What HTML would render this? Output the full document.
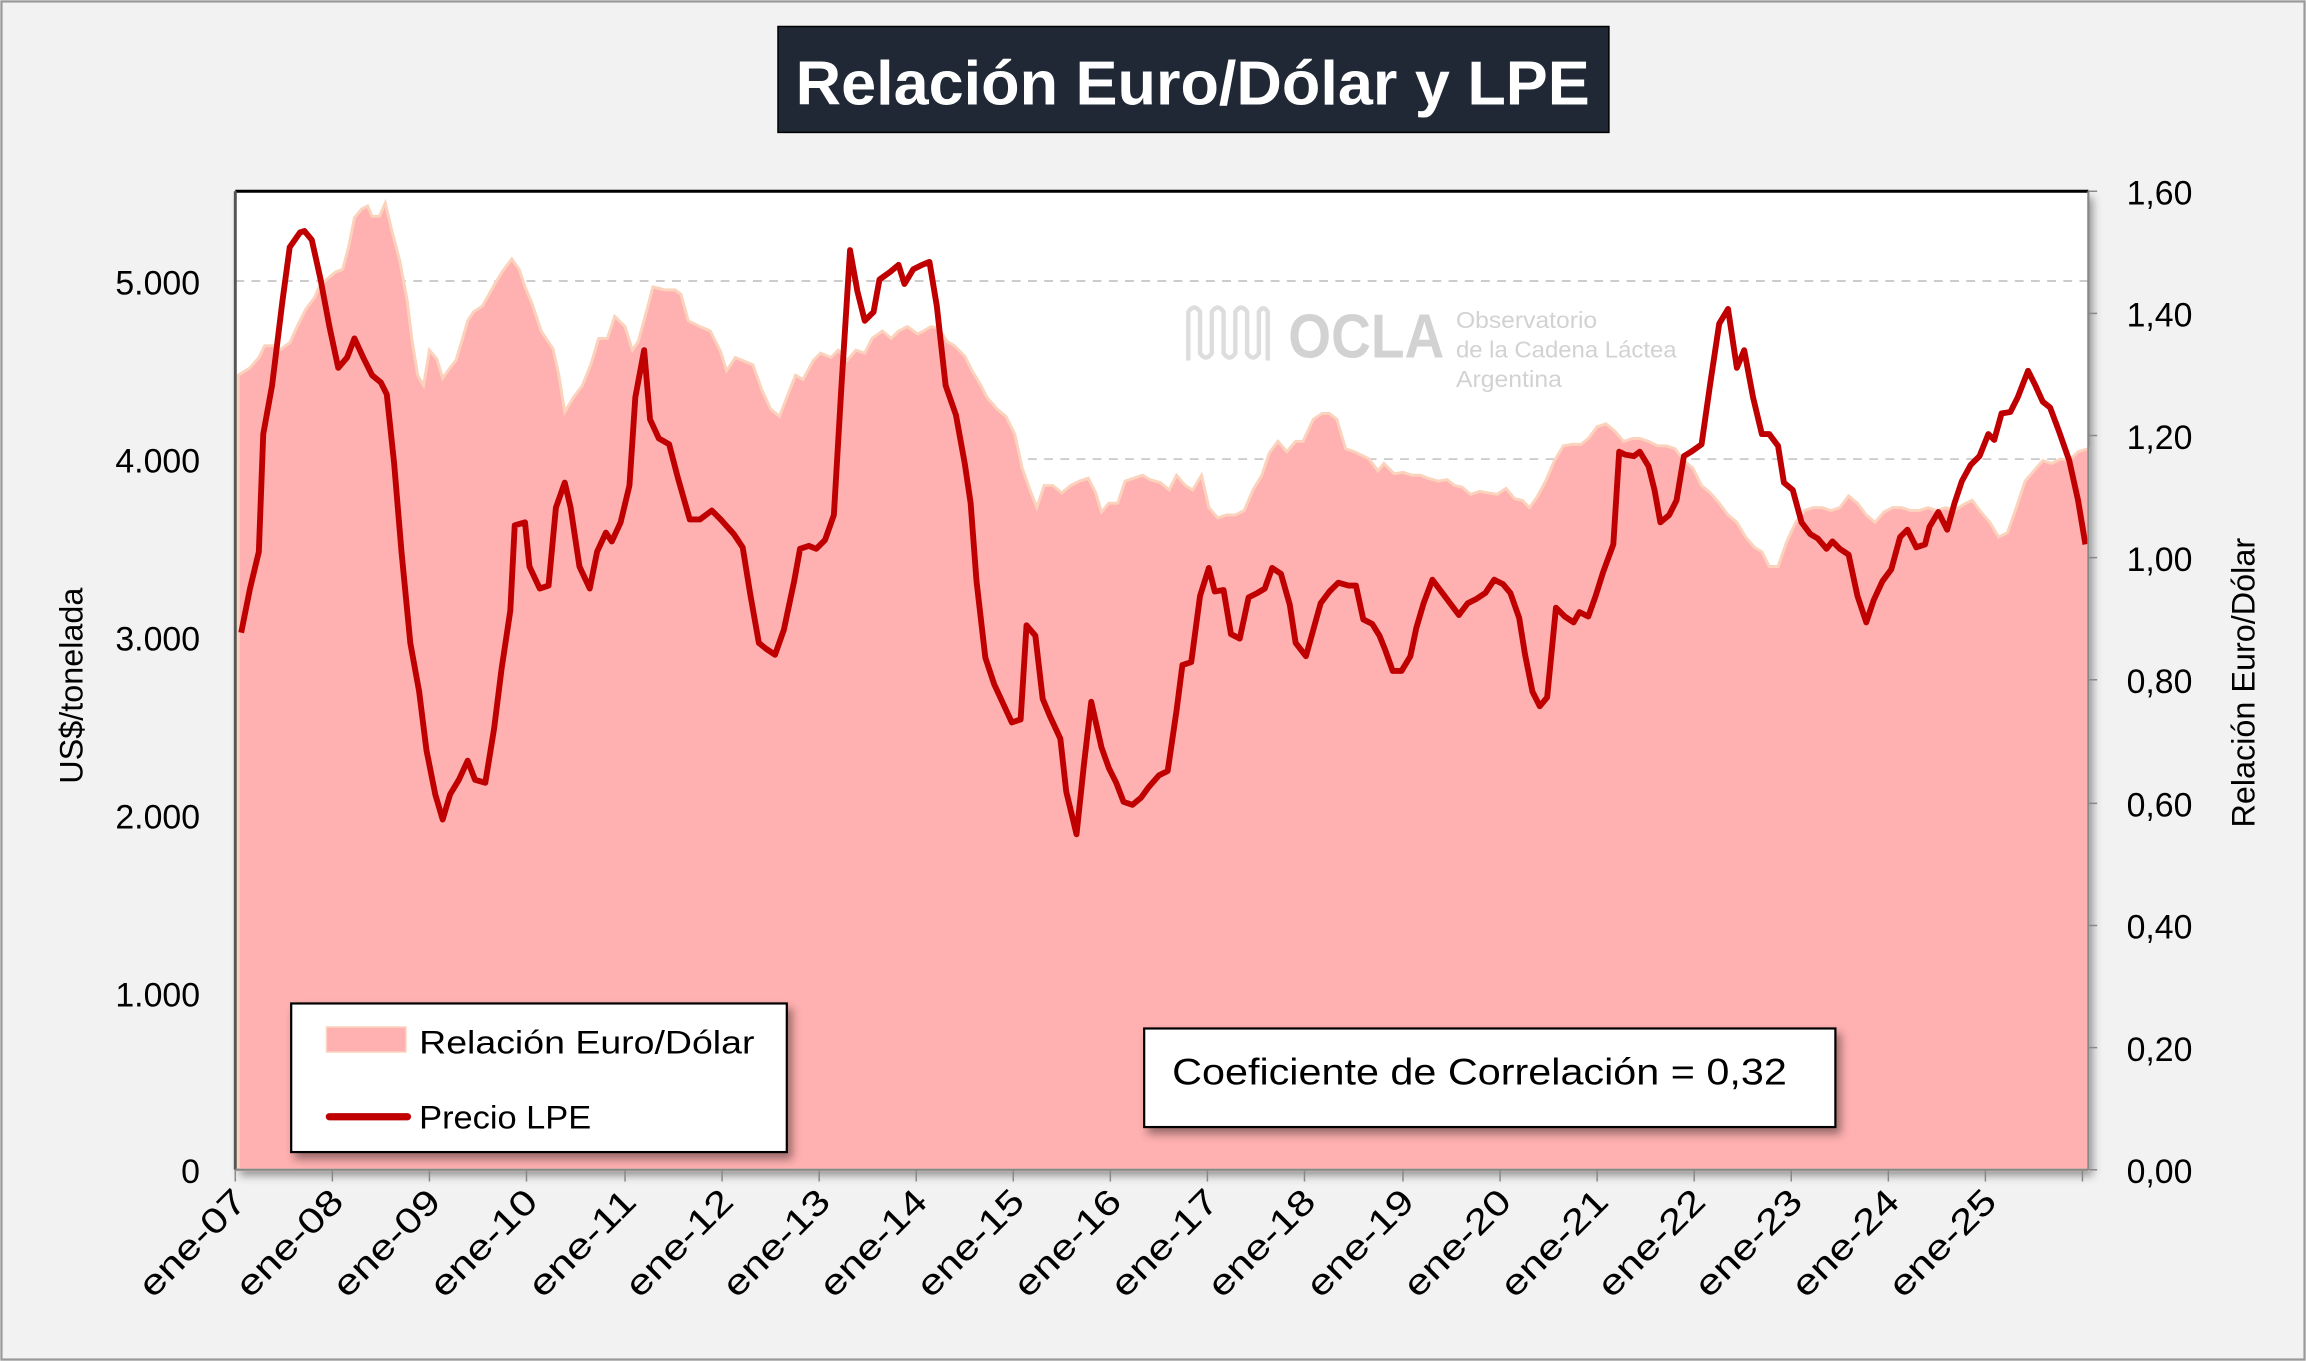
<!DOCTYPE html>
<html><head><meta charset="utf-8"><style>html,body{margin:0;padding:0;background:#f2f2f2}svg{display:block}</style></head>
<body>
<svg width="2306" height="1361" viewBox="0 0 1568 925" preserveAspectRatio="none" xmlns="http://www.w3.org/2000/svg" font-family="'Liberation Sans', sans-serif">
<defs>
<filter id="sh" x="-10%" y="-10%" width="130%" height="140%"><feDropShadow dx="3" dy="4" stdDeviation="3" flood-color="#000" flood-opacity="0.4"/></filter>
</defs>
<rect x="0" y="0" width="1568" height="925" fill="#f2f2f2"/>
<rect x="1" y="1" width="1566" height="923" fill="none" stroke="#999" stroke-width="1.5"/>
<rect x="160" y="130" width="1260" height="665" fill="#fff" filter="url(#sh)"/>
<line x1="160" y1="191" x2="1420" y2="191" stroke="#bbb" stroke-dasharray="6,5"/>
<line x1="160" y1="312" x2="1420" y2="312" stroke="#bbb" stroke-dasharray="6,5"/>
<g fill="#d6d6d6">
<path d="M808 245 V212 q4 -6 8 0 V240 q4 6 8 0 V212 q4 -6 8 0 V240 q4 6 8 0 V212 q4 -6 8 0 V240 q4 6 8 0 V212 q3 -5 6 0 V245" fill="none" stroke="#ddd" stroke-width="3"/>
<text x="876" y="243" font-size="42" font-weight="bold" fill="#d2d2d2" textLength="106" lengthAdjust="spacingAndGlyphs">OCLA</text>
<text x="990" y="223" font-size="16" fill="#d2d2d2" textLength="96" lengthAdjust="spacingAndGlyphs">Observatorio</text>
<text x="990" y="243" font-size="16" fill="#d2d2d2" textLength="150" lengthAdjust="spacingAndGlyphs">de la Cadena Láctea</text>
<text x="990" y="263" font-size="16" fill="#d2d2d2" textLength="72" lengthAdjust="spacingAndGlyphs">Argentina</text>
</g>
<polygon fill="#ffb0b0" stroke="#fbd3bd" stroke-width="2" points="162,795 162,255 170,250 176,243 180,235 186,235 190,238 194,235 197,233 203,220 208,210 214,202 217,195 222,190 228,185 233,183 237,168 241,148 246,142 250,140 253,147 258,147 262,138 266,155 272,178 277,205 280,230 284,255 288,262 292,238 297,244 301,257 306,250 310,245 314,232 318,218 322,212 328,208 332,201 337,192 342,184 348,176 353,183 357,195 362,207 368,225 376,237 380,255 384,280 390,270 396,262 402,247 407,230 413,230 418,215 425,222 430,238 434,232 440,210 444,195 452,197 459,197 463,200 468,218 476,222 483,225 490,239 494,252 500,243 505,245 512,248 518,265 524,278 530,283 537,265 541,255 546,258 553,245 558,240 565,243 570,238 576,245 582,238 588,240 593,230 600,225 606,230 611,225 617,222 624,227 628,225 633,222 638,223 644,232 649,235 656,242 661,252 667,262 671,270 678,278 684,283 690,295 695,318 700,332 705,345 710,330 716,330 722,335 728,330 734,327 740,325 745,335 749,348 754,342 760,342 765,327 771,325 777,323 782,326 789,328 795,333 800,323 806,330 811,333 817,323 822,345 828,352 834,350 840,350 846,347 852,333 858,323 863,308 869,300 875,307 881,300 886,300 893,285 899,281 904,281 909,285 915,305 921,307 927,310 931,312 937,320 941,315 948,322 954,321 960,323 966,323 971,325 978,327 984,326 989,330 994,331 1000,336 1006,334 1012,335 1018,336 1024,332 1030,339 1035,340 1040,345 1045,338 1051,327 1057,313 1063,303 1069,302 1075,302 1080,298 1086,290 1092,288 1098,293 1104,300 1110,298 1115,298 1121,300 1127,303 1133,303 1139,305 1145,313 1151,318 1157,330 1163,335 1169,342 1175,350 1181,355 1187,365 1193,372 1198,375 1203,385 1209,385 1215,368 1221,355 1227,347 1233,345 1239,345 1245,347 1251,345 1257,337 1263,342 1269,350 1275,355 1281,348 1287,345 1293,345 1299,347 1305,347 1311,345 1317,347 1323,345 1329,347 1335,343 1341,340 1347,348 1353,355 1359,365 1365,362 1371,345 1377,327 1383,320 1389,313 1395,315 1401,312 1407,313 1413,307 1420,305 1420,795"/>
<polyline fill="none" stroke="#c00000" stroke-width="4" stroke-linejoin="round" points="164,430 170,400 176,375 179,295 185,262 192,205 197,168 204,158 207,157 212,163 218,190 224,222 230,250 236,243 241,230 247,243 253,255 259,260 263,268 268,315 273,375 279,437 285,470 290,510 296,540 301,557 306,540 312,530 318,517 323,530 330,532 336,495 341,455 347,415 350,357 357,355 360,385 367,400 373,398 378,345 384,328 388,345 394,385 401,400 406,375 412,362 416,368 422,355 428,330 432,270 438,238 442,285 448,298 455,302 461,325 469,353 476,353 484,347 490,353 499,363 505,372 510,403 516,437 521,441 527,445 533,428 540,395 544,373 550,371 555,373 561,367 567,350 572,265 578,170 583,198 588,218 594,212 598,190 605,185 611,180 615,193 621,183 627,180 632,178 637,208 643,262 650,282 656,315 660,342 664,395 670,447 676,465 682,478 688,491 694,489 698,425 704,432 709,475 714,487 721,502 725,538 732,567 737,520 742,477 749,508 754,522 759,532 764,545 770,547 776,542 781,535 788,527 794,524 800,483 804,452 810,450 816,405 822,386 826,402 832,401 837,431 843,434 849,406 855,403 860,400 865,386 871,390 877,411 881,437 888,446 893,428 898,410 904,402 910,396 917,398 922,398 927,421 933,424 938,432 942,442 947,456 953,456 959,446 963,427 968,410 974,394 980,402 986,410 992,418 998,410 1004,407 1010,403 1016,394 1022,397 1027,403 1033,420 1037,445 1042,470 1047,480 1052,474 1058,413 1064,419 1070,423 1074,416 1080,419 1085,405 1090,389 1097,370 1101,307 1105,309 1111,310 1115,307 1121,317 1125,333 1129,355 1135,350 1140,340 1145,310 1150,307 1157,302 1163,260 1169,220 1175,210 1181,250 1186,238 1192,270 1198,295 1203,295 1209,303 1213,328 1219,333 1225,355 1231,363 1236,366 1242,373 1246,368 1251,373 1257,377 1263,405 1269,423 1274,408 1280,395 1286,387 1292,365 1297,360 1303,372 1309,370 1312,358 1318,348 1324,360 1329,342 1334,327 1340,316 1346,310 1352,295 1356,299 1361,281 1367,280 1372,270 1379,252 1384,262 1389,273 1394,277 1400,293 1407,313 1413,340 1418,370"/>
<line x1="160" y1="130" x2="1420" y2="130" stroke="#000" stroke-width="2"/>
<line x1="160" y1="130" x2="160" y2="795" stroke="#555" stroke-width="2"/>
<line x1="1420" y1="130" x2="1420" y2="795" stroke="#888" stroke-width="1.5"/>
<line x1="160" y1="795" x2="1420" y2="795" stroke="#888" stroke-width="1.5"/>
<g stroke="#888" stroke-width="1">
<line x1="1420" y1="130" x2="1426" y2="130"/><line x1="1420" y1="213" x2="1426" y2="213"/><line x1="1420" y1="296" x2="1426" y2="296"/><line x1="1420" y1="379" x2="1426" y2="379"/><line x1="1420" y1="462" x2="1426" y2="462"/><line x1="1420" y1="546" x2="1426" y2="546"/><line x1="1420" y1="629" x2="1426" y2="629"/><line x1="1420" y1="712" x2="1426" y2="712"/><line x1="1420" y1="795" x2="1426" y2="795"/>
</g>
<g font-size="23" text-anchor="end" fill="#000">
<text x="136" y="200">5.000</text><text x="136" y="321">4.000</text><text x="136" y="442">3.000</text><text x="136" y="563">2.000</text><text x="136" y="684">1.000</text><text x="136" y="804">0</text>
</g>
<g font-size="23" fill="#000">
<text x="1446" y="139">1,60</text><text x="1446" y="222">1,40</text><text x="1446" y="305">1,20</text><text x="1446" y="388">1,00</text><text x="1446" y="471">0,80</text><text x="1446" y="555">0,60</text><text x="1446" y="638">0,40</text><text x="1446" y="721">0,20</text><text x="1446" y="804">0,00</text>
</g>
<text transform="translate(56,466) rotate(-90)" text-anchor="middle" font-size="22">US$/tonelada</text>
<text transform="translate(1533,464) rotate(-90)" text-anchor="middle" font-size="22">Relación Euro/Dólar</text>
<g font-size="24" text-anchor="end">
<text transform="translate(169,818) rotate(-45)" textLength="92" lengthAdjust="spacingAndGlyphs">ene-07</text>
<text transform="translate(235,818) rotate(-45)" textLength="92" lengthAdjust="spacingAndGlyphs">ene-08</text>
<text transform="translate(301,818) rotate(-45)" textLength="92" lengthAdjust="spacingAndGlyphs">ene-09</text>
<text transform="translate(367,818) rotate(-45)" textLength="92" lengthAdjust="spacingAndGlyphs">ene-10</text>
<text transform="translate(434,818) rotate(-45)" textLength="92" lengthAdjust="spacingAndGlyphs">ene-11</text>
<text transform="translate(500,818) rotate(-45)" textLength="92" lengthAdjust="spacingAndGlyphs">ene-12</text>
<text transform="translate(566,818) rotate(-45)" textLength="92" lengthAdjust="spacingAndGlyphs">ene-13</text>
<text transform="translate(632,818) rotate(-45)" textLength="92" lengthAdjust="spacingAndGlyphs">ene-14</text>
<text transform="translate(698,818) rotate(-45)" textLength="92" lengthAdjust="spacingAndGlyphs">ene-15</text>
<text transform="translate(764,818) rotate(-45)" textLength="92" lengthAdjust="spacingAndGlyphs">ene-16</text>
<text transform="translate(830,818) rotate(-45)" textLength="92" lengthAdjust="spacingAndGlyphs">ene-17</text>
<text transform="translate(896,818) rotate(-45)" textLength="92" lengthAdjust="spacingAndGlyphs">ene-18</text>
<text transform="translate(963,818) rotate(-45)" textLength="92" lengthAdjust="spacingAndGlyphs">ene-19</text>
<text transform="translate(1029,818) rotate(-45)" textLength="92" lengthAdjust="spacingAndGlyphs">ene-20</text>
<text transform="translate(1095,818) rotate(-45)" textLength="92" lengthAdjust="spacingAndGlyphs">ene-21</text>
<text transform="translate(1161,818) rotate(-45)" textLength="92" lengthAdjust="spacingAndGlyphs">ene-22</text>
<text transform="translate(1227,818) rotate(-45)" textLength="92" lengthAdjust="spacingAndGlyphs">ene-23</text>
<text transform="translate(1293,818) rotate(-45)" textLength="92" lengthAdjust="spacingAndGlyphs">ene-24</text>
<text transform="translate(1359,818) rotate(-45)" textLength="92" lengthAdjust="spacingAndGlyphs">ene-25</text>
</g>
<g stroke="#888" stroke-width="1">
<line x1="160" y1="795" x2="160" y2="803"/><line x1="226" y1="795" x2="226" y2="803"/><line x1="292" y1="795" x2="292" y2="803"/><line x1="358" y1="795" x2="358" y2="803"/><line x1="425" y1="795" x2="425" y2="803"/><line x1="491" y1="795" x2="491" y2="803"/><line x1="557" y1="795" x2="557" y2="803"/><line x1="623" y1="795" x2="623" y2="803"/><line x1="689" y1="795" x2="689" y2="803"/><line x1="755" y1="795" x2="755" y2="803"/><line x1="821" y1="795" x2="821" y2="803"/><line x1="887" y1="795" x2="887" y2="803"/><line x1="954" y1="795" x2="954" y2="803"/><line x1="1020" y1="795" x2="1020" y2="803"/><line x1="1086" y1="795" x2="1086" y2="803"/><line x1="1152" y1="795" x2="1152" y2="803"/><line x1="1218" y1="795" x2="1218" y2="803"/><line x1="1284" y1="795" x2="1284" y2="803"/><line x1="1350" y1="795" x2="1350" y2="803"/><line x1="1416" y1="795" x2="1416" y2="803"/>
</g>
<rect x="529" y="18" width="565" height="72" fill="#1f2834" stroke="#000"/>
<text x="811" y="71" text-anchor="middle" font-size="42" font-weight="bold" fill="#fff" textLength="540" lengthAdjust="spacingAndGlyphs">Relación Euro/Dólar y LPE</text>
<rect x="198" y="682" width="337" height="101" fill="#fff" stroke="#000" stroke-width="1.5" filter="url(#sh)"/>
<rect x="222" y="698" width="54" height="17" fill="#ffb0b0" stroke="#fbd3bd"/>
<text x="285" y="716" font-size="22" textLength="228" lengthAdjust="spacingAndGlyphs">Relación Euro/Dólar</text>
<line x1="224" y1="759" x2="277" y2="759" stroke="#c00000" stroke-width="5" stroke-linecap="round"/>
<text x="285" y="767" font-size="22" textLength="117" lengthAdjust="spacingAndGlyphs">Precio LPE</text>
<rect x="778" y="699" width="470" height="67" fill="#fff" stroke="#000" stroke-width="1.5" filter="url(#sh)"/>
<text x="797" y="737" font-size="25" textLength="418" lengthAdjust="spacingAndGlyphs">Coeficiente de Correlación = 0,32</text>
</svg>
</body></html>
